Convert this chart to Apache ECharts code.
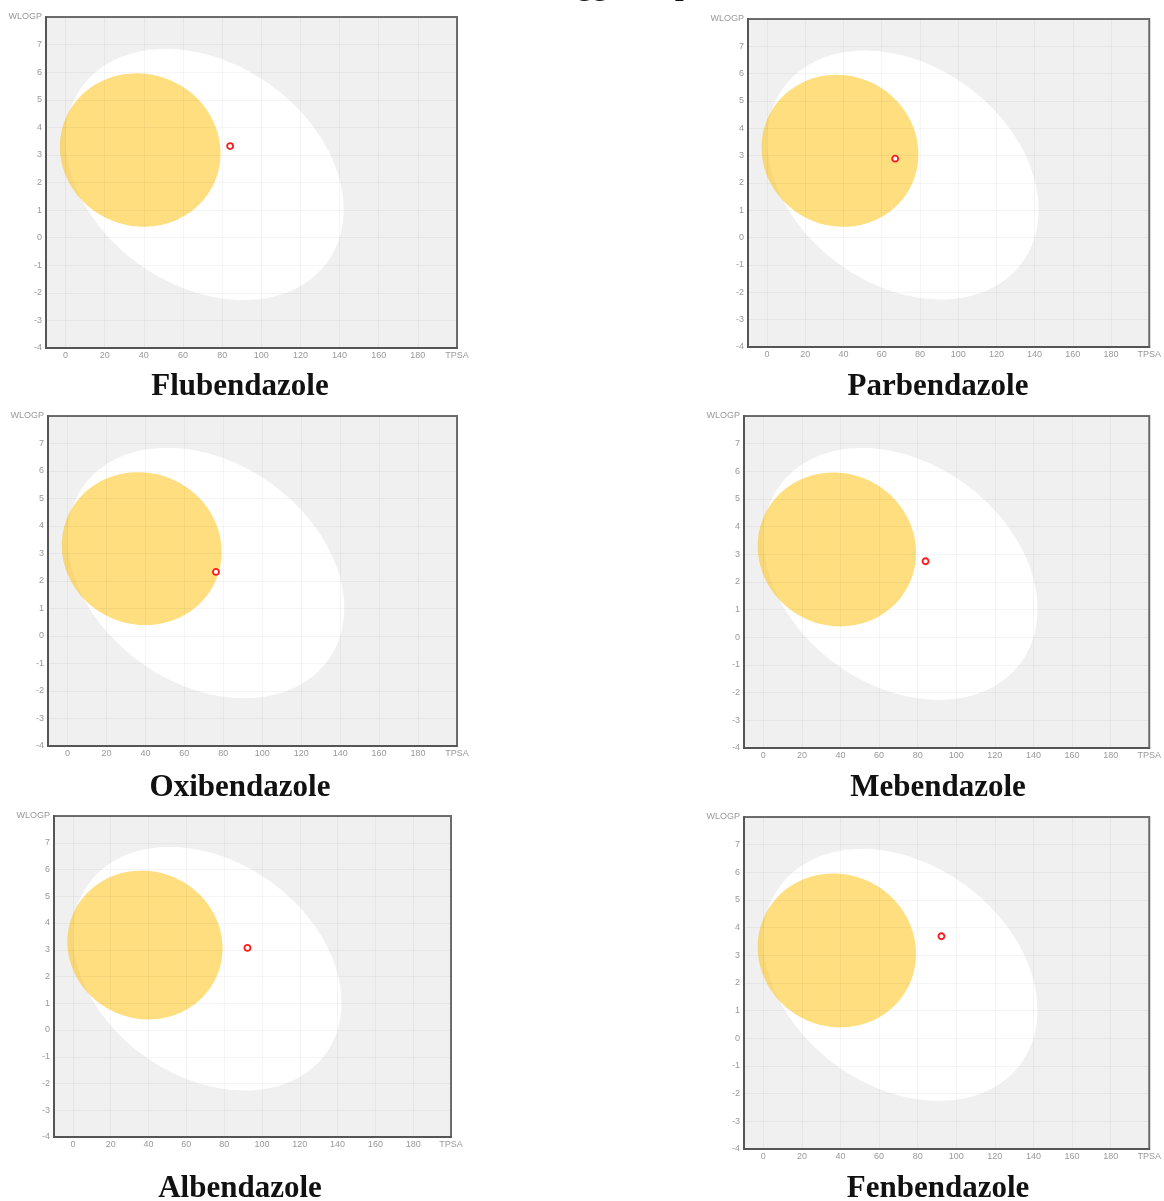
<!DOCTYPE html>
<html>
<head>
<meta charset="utf-8">
<script src="https://cdn.jsdelivr.net/npm/echarts@6/dist/echarts.min.js"></script>
<style>
  html, body { margin: 0; padding: 0; background: #fff; }
  #chart { width: 1164px; height: 1201px; }
</style>
</head>
<body>
<div id="chart"></div>
<script>
// ---- data ----
const pageTitle = 'Boiled eggs for pharmacokinetics';
const compounds = ['Flubendazole', 'Parbendazole', 'Oxibendazole', 'Mebendazole', 'Albendazole', 'Fenbendazole'];
const tpsa  = [84.08, 67.01, 76.24, 84.08, 92.31, 92.31];
const wlogp = [3.32, 2.89, 2.33, 2.75, 3.07, 3.69];
// ellipse: [centre TPSA, centre WLOGP, width (TPSA), height (WLOGP), angle (deg)]
const eggWhite = [71.051, 2.292, 142.081, 8.740, -1.031325];
const eggYolk  = [38.117, 3.177, 82.061, 5.557, -0.171887];
const xTickValues = [0, 20, 40, 60, 80, 100, 120, 140, 160, 180, 200];
const xRange = [-10, 200];
const yRange = [-4, 8];
const xName = 'TPSA';
const yName = 'WLOGP';

// ---- layout (pixels) ----
const panels = [
  { l: 46,  t: 17,  r: 457,  b: 348,  lx: 240, ly: 387 },
  { l: 748, t: 19,  r: 1153, b: 347,  lx: 938, ly: 387 },
  { l: 48,  t: 416, r: 457,  b: 746,  lx: 240, ly: 788 },
  { l: 744, t: 416, r: 1155, b: 748,  lx: 938, ly: 788 },
  { l: 54,  t: 816, r: 451,  b: 1137, lx: 240, ly: 1189 },
  { l: 744, t: 817, r: 1154, b: 1149, lx: 938, ly: 1189 }
];

const ellipses = [eggWhite, eggYolk];
const ellipseFill = ['#ffffff', 'rgba(255,190,0,0.5)'];

function renderEllipse(params, api) {
  const e = ellipses[api.value(0)];
  const cx = e[0], cy = e[1], a = e[2] / 2, b = e[3] / 2;
  const th = e[4] * Math.PI / 180;
  const pts = [];
  for (let k = 0; k < 180; k++) {
    const t = k / 180 * 2 * Math.PI;
    const x = cx + a * Math.cos(t) * Math.cos(th) - b * Math.sin(t) * Math.sin(th);
    const y = cy + a * Math.cos(t) * Math.sin(th) + b * Math.sin(t) * Math.cos(th);
    pts.push(api.coord([x, y]));
  }
  return { type: 'polygon', shape: { points: pts }, style: { fill: ellipseFill[api.value(0)] } };
}

const labelStyle = { color: '#999999', fontSize: 9, fontFamily: '"Liberation Sans", Arial, sans-serif' };

const grids = [], xAxes = [], yAxes = [], series = [], graphics = [];
panels.forEach((p, i) => {
  grids.push({
    left: p.l, top: p.t, width: p.r - p.l, height: p.b - p.t,
    show: true, backgroundColor: '#f0f0f0', borderColor: '#6e6e6e', borderWidth: 2
  });
  xAxes.push({
    type: 'value', gridIndex: i, min: xRange[0], max: xRange[1], z: 3,
    axisLine: { show: true, onZero: false, lineStyle: { color: '#555', width: 2 } },
    axisTick: { show: false, customValues: xTickValues },
    axisLabel: Object.assign({
      customValues: xTickValues, margin: 3,
      formatter: v => (v === xRange[1] ? xName : String(v))
    }, labelStyle),
    splitLine: { show: true, lineStyle: { color: 'rgba(0,0,0,0.04)', width: 1 } }
  });
  yAxes.push({
    type: 'value', gridIndex: i, min: yRange[0], max: yRange[1], interval: 1, z: 3,
    axisLine: { show: true, onZero: false, lineStyle: { color: '#555', width: 2 } },
    axisTick: { show: false },
    axisLabel: Object.assign({
      margin: 4,
      formatter: v => (v === yRange[1] ? yName : String(v))
    }, labelStyle),
    splitLine: { show: true, lineStyle: { color: 'rgba(0,0,0,0.04)', width: 1 } }
  });
  series.push({
    type: 'custom', xAxisIndex: i, yAxisIndex: i, z: 1,
    renderItem: renderEllipse, data: [[0], [1]], silent: true, clip: true
  });
  series.push({
    type: 'scatter', xAxisIndex: i, yAxisIndex: i, z: 5,
    symbol: 'circle', symbolSize: 6,
    itemStyle: { color: '#ffffff', borderColor: '#ff1a1a', borderWidth: 1.8, opacity: 1 },
    data: [[tpsa[i], wlogp[i]]]
  });
  graphics.push({
    type: 'text', x: p.lx, y: p.ly,
    style: {
      text: compounds[i], fill: '#111',
      font: 'bold 31px "Liberation Serif", "Times New Roman", serif',
      align: 'center', verticalAlign: 'middle'
    }
  });
});

graphics.push({
  type: 'text', x: 471, y: -14,
  style: {
    text: pageTitle, fill: '#111',
    font: 'bold 31px "Liberation Serif", "Times New Roman", serif',
    align: 'left', verticalAlign: 'middle'
  }
});

const chart = echarts.init(document.getElementById('chart'), null, { renderer: 'canvas' });
chart.setOption({
  animation: false,
  backgroundColor: '#ffffff',
  grid: grids,
  xAxis: xAxes,
  yAxis: yAxes,
  series: series,
  graphic: graphics
});
</script>
</body>
</html>
